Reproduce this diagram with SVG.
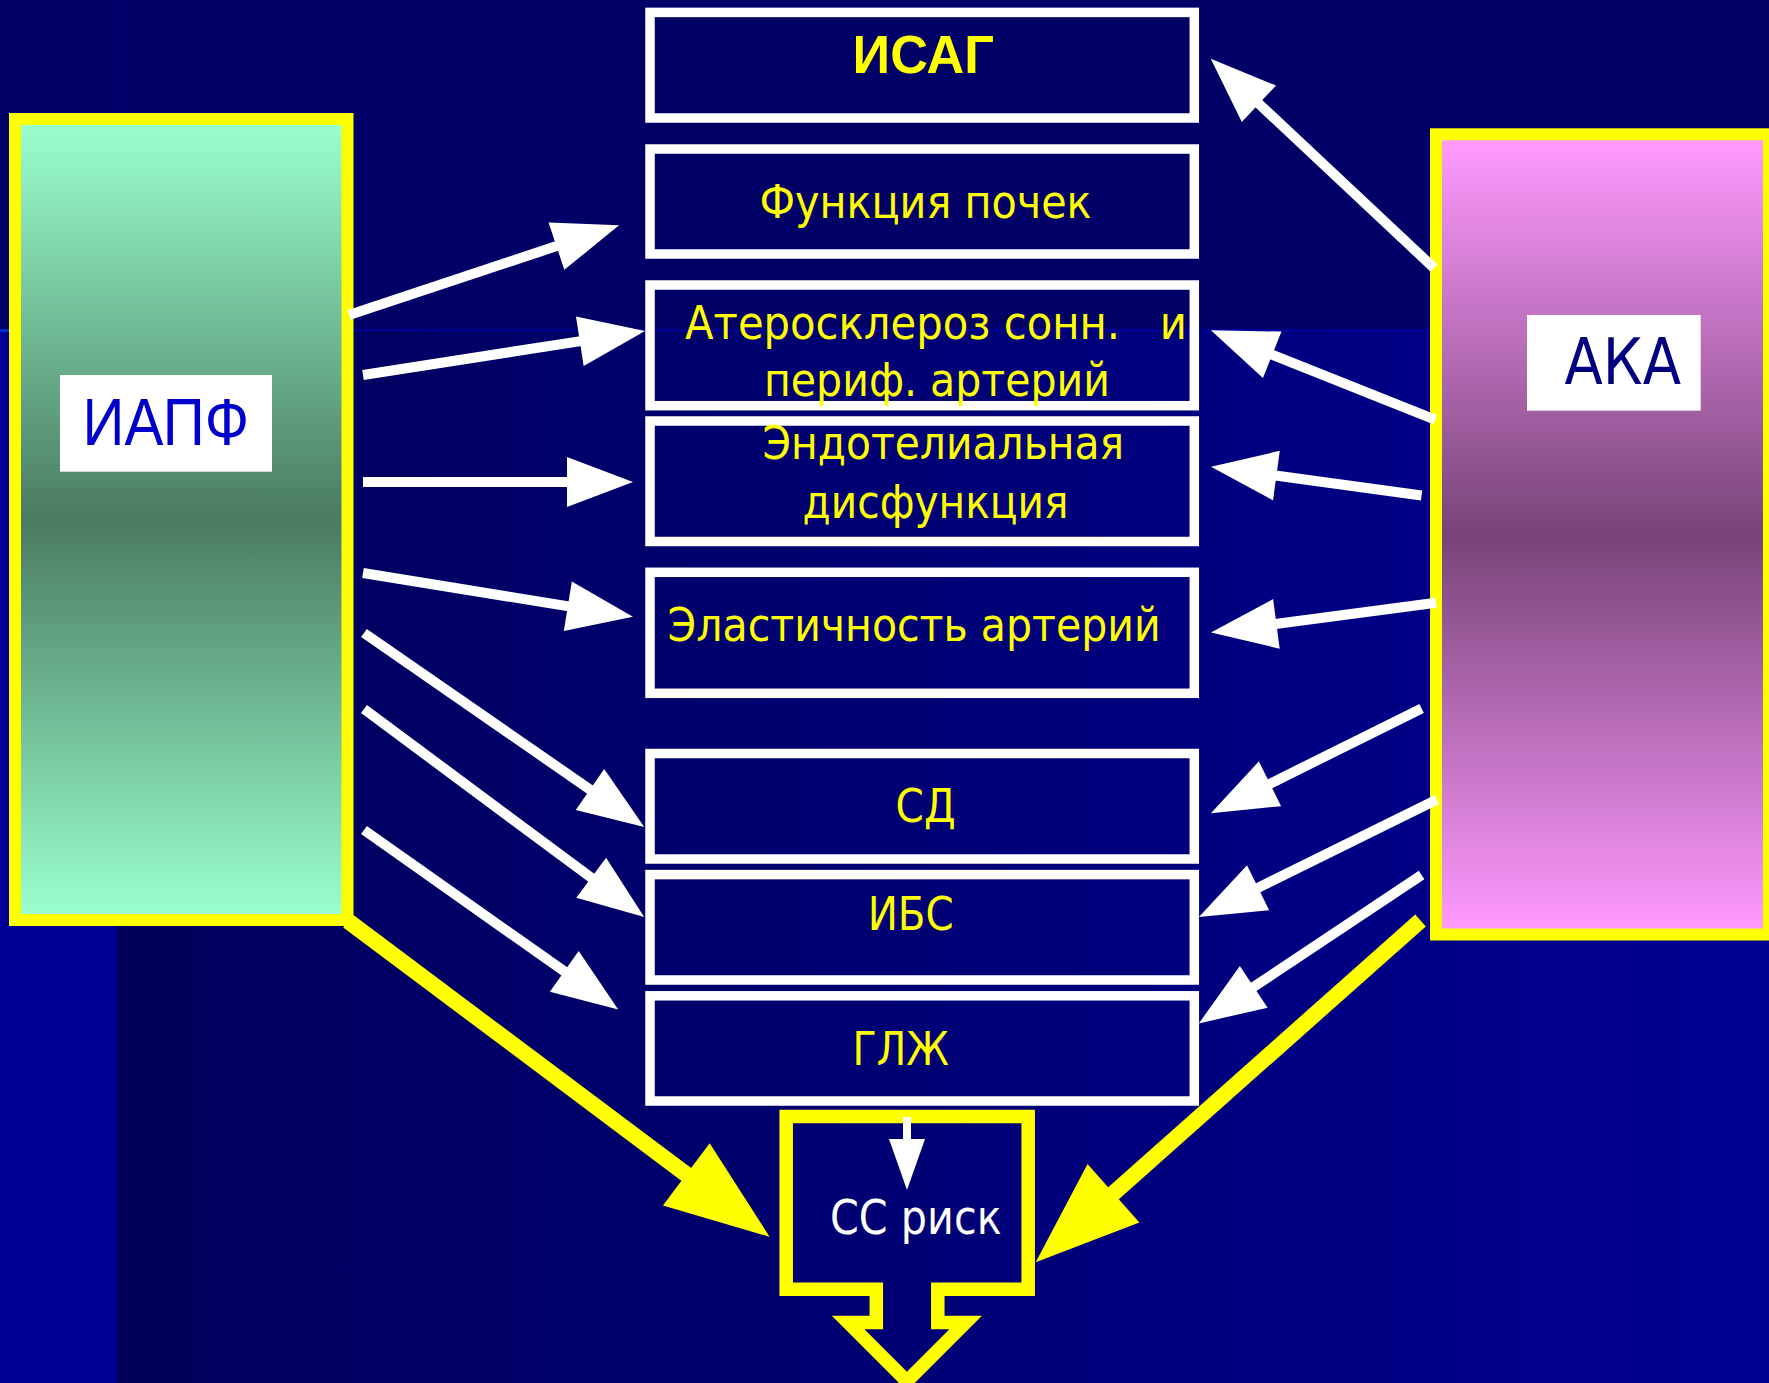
<svg xmlns="http://www.w3.org/2000/svg" width="1769" height="1383" viewBox="0 0 1769 1383">
<defs>
<linearGradient id="bgLow" x1="117" y1="0" x2="1769" y2="0" gradientUnits="userSpaceOnUse"><stop offset="0" stop-color="#00005A"/><stop offset="1" stop-color="#000092"/></linearGradient>
<linearGradient id="gGreen" x1="0" y1="125" x2="0" y2="914" gradientUnits="userSpaceOnUse"><stop offset="0" stop-color="#99FFCC"/><stop offset="0.5" stop-color="#4A7A62"/><stop offset="1" stop-color="#99FFCC"/></linearGradient>
<linearGradient id="gPink" x1="0" y1="141" x2="0" y2="929" gradientUnits="userSpaceOnUse"><stop offset="0" stop-color="#FF99FF"/><stop offset="0.5" stop-color="#774477"/><stop offset="1" stop-color="#FF99FF"/></linearGradient>
<marker id="wh" markerUnits="userSpaceOnUse" markerWidth="70" markerHeight="54" viewBox="0 -27 70 54" refX="1" refY="0" orient="auto" overflow="visible"><path d="M0,-25 L66,0 L0,25 z" fill="#FFFFFF"/></marker>
<marker id="whs" markerUnits="userSpaceOnUse" markerWidth="56" markerHeight="40" viewBox="0 -20 56 40" refX="1" refY="0" orient="auto" overflow="visible"><path d="M0,-18 L51,0 L0,18 z" fill="#FFFFFF"/></marker>
<marker id="yh" markerUnits="userSpaceOnUse" markerWidth="110" markerHeight="82" viewBox="0 -41 110 82" refX="1" refY="0" orient="auto" overflow="visible"><path d="M0,-39 L104,0 L0,39 z" fill="#FFFF00"/></marker>
</defs>
<style>
.box{fill:none;stroke:#FFFFFF;stroke-width:9.5}
.side{stroke:#FFFF00;stroke-width:12}
.lbl{fill:#FFFFFF}
.t{font-family:"DejaVu Sans","Noto Sans",sans-serif;font-size:46px;fill:#FFFF00}
.w{stroke:#FFFFFF;stroke-width:10;fill:none;stroke-linecap:butt}
.y{stroke:#FFFF00;stroke-width:16;fill:none;stroke-linecap:butt}
</style>

<g id="background">
<rect x="0" y="0" width="1769" height="1383" fill="#000066"/>
<rect x="117" y="330" width="1652" height="1053" fill="url(#bgLow)"/>
<rect x="0" y="330" width="117" height="1053" fill="#000099"/>
<rect x="116" y="0" width="2" height="330" fill="#00007A"/>
<rect x="0" y="329" width="1769" height="2" fill="#000099"/>
<rect x="0" y="329" width="117" height="3" fill="#0030D0"/>
</g>

<g id="node-iapf">
<rect class="side" x="15" y="119" width="332.5" height="801" fill="url(#gGreen)"/>
<rect class="lbl" x="60" y="375" width="212" height="96.7"/>
<text x="82.6" y="445" font-family="'Liberation Sans',Arial,sans-serif" font-size="66" fill="#0000CC" textLength="166.4" lengthAdjust="spacingAndGlyphs">ИАПФ</text>
</g>

<g id="node-aka">
<rect class="side" x="1436" y="134.3" width="333" height="800.2" fill="url(#gPink)"/>
<rect class="lbl" x="1527" y="315" width="173.7" height="95.7"/>
<text x="1564.5" y="384" font-family="'DejaVu Sans','Noto Sans',sans-serif" font-size="64" fill="#000080" textLength="116.5" lengthAdjust="spacingAndGlyphs">АКА</text>
</g>

<g id="node-isag">
<rect class="box" x="650" y="12.4" width="544.3" height="105.6"/>
<text x="852.6" y="73" font-family="'Liberation Sans',Arial,sans-serif" font-weight="bold" font-size="54" fill="#FFFF00" textLength="141.4" lengthAdjust="spacingAndGlyphs">ИСАГ</text>
</g>

<g id="node-kidney">
<rect class="box" x="650" y="149" width="544.3" height="105"/>
<text class="t" x="759.4" y="218" textLength="332.2" lengthAdjust="spacingAndGlyphs">Функция почек</text>
</g>

<g id="node-athero">
<rect class="box" x="650" y="285" width="544.3" height="120.7"/>
<text class="t" x="685" y="338.6" xml:space="preserve" textLength="502" lengthAdjust="spacingAndGlyphs">Атеросклероз сонн.   и</text>
<text class="t" x="764" y="396.4" textLength="346" lengthAdjust="spacingAndGlyphs">периф. артерий</text>
</g>

<g id="node-endo">
<rect class="box" x="650" y="421" width="544.3" height="120.5"/>
<text class="t" x="762.5" y="459" textLength="361.5" lengthAdjust="spacingAndGlyphs">Эндотелиальная</text>
<text class="t" x="802.6" y="518" textLength="266" lengthAdjust="spacingAndGlyphs">дисфункция</text>
</g>

<g id="node-elast">
<rect class="box" x="650" y="572.3" width="544.3" height="121"/>
<text class="t" x="667.6" y="641" font-size="47" textLength="493" lengthAdjust="spacingAndGlyphs">Эластичность артерий</text>
</g>

<g id="node-sd">
<rect class="box" x="650" y="753.5" width="544.3" height="105.5"/>
<text class="t" x="895.6" y="822" textLength="60" lengthAdjust="spacingAndGlyphs">СД</text>
</g>

<g id="node-ibs">
<rect class="box" x="650" y="874.6" width="544.3" height="105.4"/>
<text class="t" x="867.7" y="929.5" font-size="48" textLength="86" lengthAdjust="spacingAndGlyphs">ИБС</text>
</g>

<g id="node-glzh">
<rect class="box" x="650" y="995.8" width="544.3" height="105.2"/>
<text class="t" x="852.4" y="1065" font-size="48" textLength="96.6" lengthAdjust="spacingAndGlyphs">ГЛЖ</text>
</g>

<g id="node-ssrisk">
<path d="M786.2,1116.5 H1028.2 V1289.3 H937.8 V1322.45 H965.7 L906.9,1381.3 L848.1,1322.45 H876.3 V1289.3 H786.2 Z" fill="none" stroke="#FFFF00" stroke-width="13.5" stroke-linejoin="miter" stroke-miterlimit="10"/>
<text x="830" y="1233.5" font-family="'DejaVu Sans','Noto Sans',sans-serif" font-size="48" fill="#FFFFFF" textLength="171.6" lengthAdjust="spacingAndGlyphs">СС риск</text>
</g>

<g id="connectors">
<line class="w" x1="349" y1="315" x2="557.4" y2="245.8" marker-end="url(#wh)"/>
<line class="w" x1="363" y1="375" x2="580.8" y2="341.1" marker-end="url(#wh)"/>
<line class="w" x1="363" y1="482" x2="568" y2="482" marker-end="url(#wh)"/>
<line class="w" x1="363" y1="573" x2="568.8" y2="606.4" marker-end="url(#wh)"/>
<line class="w" x1="364" y1="633" x2="590.8" y2="790.1" marker-end="url(#wh)"/>
<line class="w" x1="364" y1="709" x2="592" y2="878.3" marker-end="url(#wh)"/>
<line class="w" x1="364" y1="830" x2="565.1" y2="971.9" marker-end="url(#wh)"/>
<line class="w" x1="1434" y1="268" x2="1258.2" y2="103.1" marker-end="url(#wh)"/>
<line class="w" x1="1435" y1="419.6" x2="1271.3" y2="354.4" marker-end="url(#wh)"/>
<line class="w" x1="1421.6" y1="495.5" x2="1275.4" y2="475.5" marker-end="url(#wh)"/>
<line class="w" x1="1436" y1="602.7" x2="1275.4" y2="624" marker-end="url(#wh)"/>
<line class="w" x1="1421.6" y1="708.4" x2="1269.1" y2="784.2" marker-end="url(#wh)"/>
<line class="w" x1="1437" y1="799.6" x2="1257.2" y2="888.2" marker-end="url(#wh)"/>
<line class="w" x1="1421.6" y1="875" x2="1252.9" y2="987.4" marker-end="url(#wh)"/>
<line x1="907" y1="1117" x2="907" y2="1140" stroke="#FFFFFF" stroke-width="8" marker-end="url(#whs)"/>
<line class="y" x1="348" y1="921" x2="687.1" y2="1175" marker-end="url(#yh)"/>
<line class="y" x1="1420.5" y1="920.5" x2="1112.7" y2="1193.9" marker-end="url(#yh)"/>
</g>
</svg>
